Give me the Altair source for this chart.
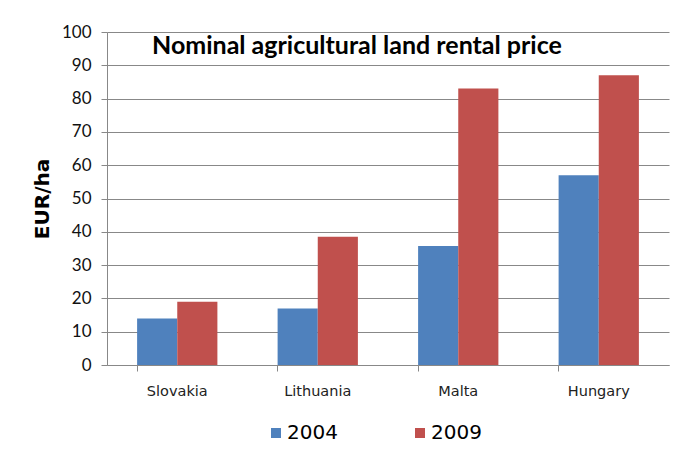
import altair as alt
import pandas as pd

countries = ["Slovakia", "Lithuania", "Malta", "Hungary"]
years = ["2004", "2009"]
values_2004 = [14, 17, 35.7, 57]
values_2009 = [19, 38.5, 83, 87]
colors = ["#4F81BD", "#C0504D"]
y_ticks = [0, 10, 20, 30, 40, 50, 60, 70, 80, 90, 100]
title_text = "Nominal agricultural land rental price"
y_title = "EUR/ha"

rows = []
for i, c in enumerate(countries):
    rows.append({"country": c, "year": years[0], "value": values_2004[i]})
    rows.append({"country": c, "year": years[1], "value": values_2009[i]})
df = pd.DataFrame(rows)

grid_gray = "#888888"

chart = alt.Chart(df).mark_bar().encode(
    x=alt.X(
        "country:N", sort=countries, title=None,
        scale=alt.Scale(paddingInner=0.4286, paddingOuter=0.2143),
        axis=alt.Axis(
            labelAngle=0, bandPosition=0,
            labelFont="DejaVu Sans", labelFontSize=14.5, labelColor="#222222",
            labelPadding=13, tickSize=6, tickColor=grid_gray,
            domainColor=grid_gray, grid=False,
        ),
    ),
    xOffset=alt.XOffset("year:N", sort=years,
                        scale=alt.Scale(paddingInner=0, paddingOuter=0)),
    y=alt.Y(
        "value:Q", title=y_title,
        scale=alt.Scale(domain=[0, 100], nice=False),
        axis=alt.Axis(
            values=y_ticks, labelFont="Lato", labelFontSize=17,
            labelColor="#111111", labelPadding=10, tickSize=6,
            tickColor=grid_gray, domainColor=grid_gray, gridColor=grid_gray,
            gridOpacity=1, titleFont="DejaVu Sans", titleFontSize=20,
            titleFontWeight="bold", titleColor="#000000", titlePadding=9,
        ),
    ),
    color=alt.Color(
        "year:N", scale=alt.Scale(domain=years, range=colors),
        legend=alt.Legend(
            title=None, orient="none", legendX=159, legendY=391,
            direction="horizontal", symbolType="square", symbolSize=100,
            symbolStrokeWidth=0, labelFont="DejaVu Sans", labelFontSize=20,
            labelColor="#000000", labelOffset=1, columnPadding=72,
        ),
    ),
).properties(
    width=562,
    height=333,
    title=alt.TitleParams(
        text=title_text, anchor="start", frame="group", dx=45, offset=-36,
        font="Lato", fontSize=25, fontWeight="bold",
        color="#000000",
    ),
    autosize=alt.AutoSizeParams(type="none"),
    padding={"left": 99, "top": 24, "right": 10, "bottom": 85},
).configure_view(stroke=None)

chart.save("out.html", embed_options={"renderer": "svg", "actions": False})
